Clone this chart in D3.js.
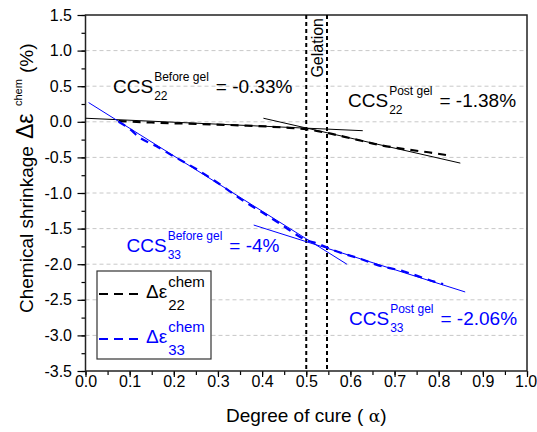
<!DOCTYPE html>
<html>
<head>
<meta charset="utf-8">
<script src="https://cdn.jsdelivr.net/npm/d3@7"></script>
<style>
  body { margin: 0; background: #fff; }
  svg { font-family: "Liberation Sans", Arial, sans-serif; }
</style>
</head>
<body>
<div id="chart"></div>
<script>
// measured series (degree of cure vs chemical shrinkage %)
const alpha22 = [0.075, 0.15, 0.25, 0.35, 0.45, 0.50, 0.55, 0.60, 0.67, 0.73, 0.79, 0.82]
const eps22 = [0.01, -0.01, -0.03, -0.05, -0.08, -0.105, -0.16, -0.23, -0.33, -0.39, -0.44, -0.47]
const alpha33 = [0.075, 0.10, 0.12, 0.16, 0.19, 0.25, 0.30, 0.36, 0.40, 0.44, 0.50, 0.53, 0.56, 0.63, 0.66, 0.72, 0.74, 0.79, 0.81]
const eps33 = [0.0, -0.10, -0.21, -0.34, -0.45, -0.66, -0.86, -1.12, -1.27, -1.43, -1.66, -1.72, -1.80, -1.94, -2.01, -2.10, -2.14, -2.245, -2.28]

// linear fits (end points)
const fit22Before = [[0, 0.05], [0.628, -0.125]]
const fit22Post = [[0.403, 0.05], [0.849, -0.58]]
const fit33Before = [[0.007, 0.27], [0.592, -2.0]]
const fit33Post = [[0.381, -1.45], [0.86, -2.39]]

const gelation = [0.5, 0.547]

const xTicks = [0, 0.1, 0.2, 0.3, 0.4, 0.5, 0.6, 0.7, 0.8, 0.9, 1.0]
const yTicks = [1.5, 1.0, 0.5, 0.0, -0.5, -1.0, -1.5, -2.0, -2.5, -3.0, -3.5]

const dims = {
  width: 537,
  height: 432,
  margin: { top: 15, right: 10, bottom: 61, left: 85.5 }
}
dims.boundedWidth = dims.width - dims.margin.left - dims.margin.right
dims.boundedHeight = dims.height - dims.margin.top - dims.margin.bottom

const svg = d3.select("#chart").append("svg")
  .attr("width", dims.width)
  .attr("height", dims.height)

const bounds = svg.append("g")
  .attr("transform", `translate(${dims.margin.left},${dims.margin.top})`)

const xScale = d3.scaleLinear().domain([0, 1]).range([0, dims.boundedWidth])
const yScale = d3.scaleLinear().domain([-3.5, 1.5]).range([dims.boundedHeight, 0])

// grid
bounds.append("g")
  .selectAll("line")
  .data(yTicks.filter(d => d > -3.5 && d < 1.5))
  .join("line")
    .attr("x1", 0)
    .attr("x2", dims.boundedWidth)
    .attr("y1", d => yScale(d))
    .attr("y2", d => yScale(d))
    .attr("stroke", "#c8c8c8")
    .attr("stroke-dasharray", "4,3")

// minor ticks
const xMinor = d3.range(0, 21).map(i => i * 0.05)
const yMinor = d3.range(0, 21).map(i => -3.5 + i * 0.25)
const fmt = d => d.toFixed(1)

const xAxis = bounds.append("g")
  .attr("transform", `translate(0,${dims.boundedHeight})`)
xAxis.call(d3.axisBottom(xScale).tickValues(xMinor).tickSize(4).tickFormat(""))
xAxis.append("g").call(d3.axisBottom(xScale).tickValues(xTicks).tickSize(6).tickPadding(-1).tickFormat(fmt))

const yAxis = bounds.append("g")
yAxis.call(d3.axisLeft(yScale).tickValues(yMinor).tickSize(4).tickFormat(""))
yAxis.append("g").call(d3.axisLeft(yScale).tickValues(yTicks).tickSize(8).tickPadding(5.5).tickFormat(fmt))

svg.selectAll(".domain").remove()
svg.selectAll(".tick line").attr("stroke", "#000").attr("stroke-width", 1.2)
svg.selectAll(".tick text")
  .attr("fill", "#000")
  .style("font-size", "16px")
  .style("font-family", "'Liberation Sans', Arial, sans-serif")
// keep the last x label inside the picture
xAxis.selectAll(".tick text").filter(d => d === 1.0).attr("dx", -1.5)

// frame
bounds.append("rect")
  .attr("width", dims.boundedWidth)
  .attr("height", dims.boundedHeight)
  .attr("fill", "none")
  .attr("stroke", "#222")
  .attr("stroke-width", 1.5)

// gelation lines
bounds.append("g")
  .selectAll("line")
  .data(gelation)
  .join("line")
    .attr("x1", d => xScale(d))
    .attr("x2", d => xScale(d))
    .attr("y1", 0)
    .attr("y2", dims.boundedHeight)
    .attr("stroke", "#000")
    .attr("stroke-width", 2)
    .attr("stroke-dasharray", "4,3")

bounds.append("text")
  .attr("transform", `translate(${xScale(d3.mean(gelation)) + 6},3) rotate(-90)`)
  .attr("text-anchor", "end")
  .style("font-size", "16px")
  .text("Gelation")

const lineGen = d3.line().x(d => xScale(d[0])).y(d => yScale(d[1]))

// fits
const fits = [
  [fit22Before, "#000"], [fit22Post, "#000"],
  [fit33Before, "#0000ff"], [fit33Post, "#0000ff"]
]
fits.forEach(([pts, color]) => {
  bounds.append("path")
    .attr("d", lineGen(pts))
    .attr("fill", "none")
    .attr("stroke", color)
    .attr("stroke-width", 1)
})

// data series
const series = [
  [d3.zip(alpha22, eps22), "#000"],
  [d3.zip(alpha33, eps33), "#0000ff"]
]
series.forEach(([pts, color]) => {
  bounds.append("path")
    .attr("d", lineGen.curve(d3.curveMonotoneX)(pts))
    .attr("fill", "none")
    .attr("stroke", color)
    .attr("stroke-width", 2.2)
    .attr("stroke-dasharray", "8,6")
  lineGen.curve(d3.curveLinear)
})

// base + stacked super/subscript + rest
function stacked(parent, x, y, o) {
  const g = parent.append("g").attr("fill", o.color)
  const base = g.append("text").attr("x", x).attr("y", y)
    .style("font-size", o.size + "px").text(o.base)
  const bw = base.node().getComputedTextLength()
  const sup = g.append("text").attr("x", x + bw + 1).attr("y", y - o.supUp)
    .style("font-size", o.supSize + "px").text(o.sup)
  const sub = g.append("text").attr("x", x + bw + 1).attr("y", y + o.subDown)
    .style("font-size", o.subSize + "px").text(o.sub)
  const w = Math.max(sup.node().getComputedTextLength(), sub.node().getComputedTextLength())
  if (o.rest) {
    g.append("text").attr("x", x + bw + w + o.gap).attr("y", y)
      .style("font-size", o.size + "px").text(o.rest)
  }
  return g
}

const annot = { size: 19, supSize: 12, subSize: 12, supUp: 12, subDown: 7, gap: 8 }
stacked(svg, 113, 93, { ...annot, color: "#000", base: "CCS", sup: "Before gel", sub: "22", rest: "= -0.33%" })
stacked(svg, 348, 106.5, { ...annot, color: "#000", base: "CCS", sup: "Post gel", sub: "22", rest: "= -1.38%" })
stacked(svg, 126.5, 251.5, { ...annot, color: "#0000ff", base: "CCS", sup: "Before gel", sub: "33", rest: "= -4%" })
stacked(svg, 349, 325, { ...annot, color: "#0000ff", base: "CCS", sup: "Post gel", sub: "33", rest: "= -2.06%" })

// legend
const legend = svg.append("g")
legend.append("rect")
  .attr("x", 97).attr("y", 271)
  .attr("width", 114).attr("height", 88)
  .attr("fill", "#fff")
  .attr("stroke", "#333")
  .attr("stroke-width", 1.2)

const legendItems = [["22", "#000", 294], ["33", "#0000ff", 339]]
legendItems.forEach(([sub, color, ly]) => {
  legend.append("line")
    .attr("x1", 99).attr("x2", 142)
    .attr("y1", ly).attr("y2", ly)
    .attr("stroke", color)
    .attr("stroke-width", 2.2)
    .attr("stroke-dasharray", "9,6")
  stacked(legend, 146, ly + 3.5, {
    color: color, base: "Δε", sup: "chem", sub: sub,
    size: 19, supSize: 15, subSize: 15, supUp: 10.5, subDown: 12, gap: 0
  })
})

// axis titles
const xTitle = svg.append("text")
  .attr("x", dims.margin.left + dims.boundedWidth / 2)
  .attr("y", 422)
  .attr("text-anchor", "middle")
  .style("font-size", "19px")
xTitle.append("tspan").text("Degree of cure (")
xTitle.append("tspan").style("font-family", "'DejaVu Serif', serif").style("font-size", "17px").text(" α")
xTitle.append("tspan").text(")")

// y title pieces, placed along the rotated axis (distance from page top)
const yTitle = svg.append("g").attr("transform", "translate(33,0) rotate(-90)")
const yPart = (from, size, text, lift) => yTitle.append("text")
  .attr("x", -from).attr("y", -(lift || 0))
  .style("font-size", size + "px").text(text)
yPart(313, 19, "Chemical shrinkage")
yPart(139, 23, "Δε")
yPart(106, 11, "chem", 11)
yPart(73, 19, "(%)")
</script>
</body>
</html>
